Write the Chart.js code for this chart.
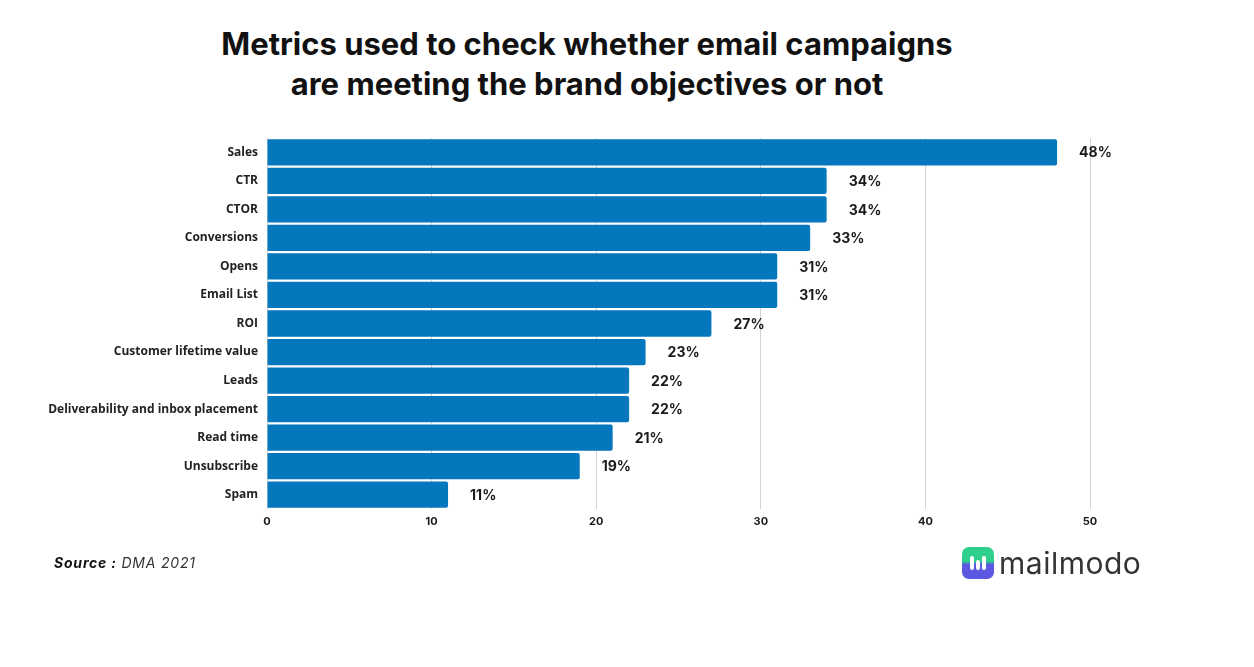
<!DOCTYPE html>
<html>
<head>
<meta charset="utf-8">
<script src="https://cdn.jsdelivr.net/npm/chart.js@4.4.0/dist/chart.umd.min.js"></script>
<style>
  body { margin: 0; background: #fff; width: 1254px; height: 667px; overflow: hidden; position: relative; font-family: Inter, "Noto Sans", sans-serif; }
  #title { position: absolute; left: 0; width: 1174px; top: 24px; text-align: center; font: 700 31px/40px Inter, sans-serif; color: #111; }
  #wrap { position: absolute; left: 0; top: 0; width: 1254px; height: 667px; }
  #source { position: absolute; left: 54px; top: 554px; font: italic 14px Inter, sans-serif; color: #333; letter-spacing: 0.8px; }
  #source b { color: #111; }
  #logo { position: absolute; left: 962px; top: 546px; height: 34px; display: flex; align-items: center; }
  #logo .ic { width: 32px; height: 32px; border-radius: 7px; background: linear-gradient(#2fcf8d 0 45%, #5b57e0 55% 100%); position: relative; }
  #logo .ic span { position: absolute; top: 9px; width: 4px; height: 14px; border-radius: 2px; background: #fff; }
  #logo .tx { margin-left: 5px; font: 400 30px Inter, sans-serif; color: #333; letter-spacing: 0.5px; }
</style>
</head>
<body>
<div id="title">Metrics used to check whether email campaigns<br>are meeting the brand objectives or not</div>
<div id="wrap"><canvas id="metricsChart" width="1254" height="667"></canvas></div>
<div id="source"><b>Source :</b> DMA 2021</div>
<div id="logo"><div class="ic"><span style="left:8px"></span><span style="left:14px;top:13px;height:10px"></span><span style="left:20px"></span></div><div class="tx">mailmodo</div></div>
<script>
var metrics = ["Sales", "CTR", "CTOR", "Conversions", "Opens", "Email List", "ROI",
  "Customer lifetime value", "Leads", "Deliverability and inbox placement",
  "Read time", "Unsubscribe", "Spam"];
var shares = [48, 34, 34, 33, 31, 31, 27, 23, 22, 22, 21, 19, 11];
var xTicks = [0, 10, 20, 30, 40, 50];

// percent labels next to each bar
var barLabels = {
  id: "barLabels",
  afterDatasetsDraw: function (chart) {
    var ctx = chart.ctx;
    ctx.save();
    ctx.font = "bold 14px Inter, sans-serif";
    ctx.fillStyle = "#1a1a1a";
    ctx.textBaseline = "middle";
    chart.getDatasetMeta(0).data.forEach(function (bar, i) {
      ctx.fillText(shares[i] + "%", bar.x + 22, bar.y + 1);
    });
    ctx.restore();
  }
};

var ctx = document.getElementById("metricsChart").getContext("2d");
var myChart = new Chart(ctx, {
  type: "bar",
  data: {
    labels: metrics,
    datasets: [{
      label: "Share",
      data: shares,
      backgroundColor: "#0577bd",
      borderRadius: 2,
      borderSkipped: "start",
      categoryPercentage: 0.92,
      barPercentage: 1
    }]
  },
  options: {
    indexAxis: "y",
    responsive: false,
    animation: false,
    devicePixelRatio: 1,
    layout: { padding: { top: 138, bottom: 130, left: 0, right: 164 } },
    plugins: { legend: { display: false }, tooltip: { enabled: false } },
    scales: {
      x: {
        min: 0,
        max: 50,
        afterBuildTicks: function (axis) {
          axis.ticks = xTicks.map(function (v) { return { value: v }; });
        },
        grid: { color: "#d4d4d4", drawTicks: false },
        border: { display: false },
        ticks: { padding: 6, color: "#1a1a1a", font: { family: "Inter, sans-serif", weight: "bold", size: 11 } },
        afterFit: function (axis) { axis.height = 28; }
      },
      y: {
        grid: { display: false },
        border: { display: false },
        ticks: { padding: 1, color: "#222", font: { family: "'Open Sans', sans-serif", weight: "bold", size: 12 } },
        afterFit: function (axis) { axis.width = 267; }
      }
    }
  },
  plugins: [barLabels]
});
</script>
</body>
</html>
